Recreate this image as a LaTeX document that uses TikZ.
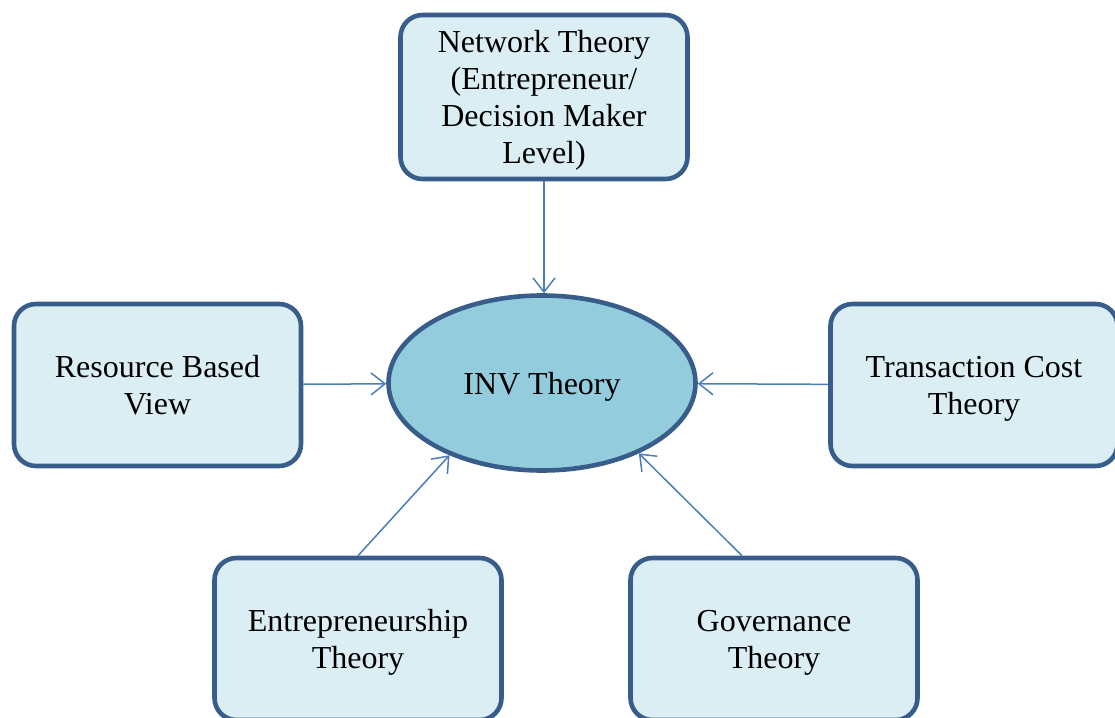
\documentclass[tikz,border=0pt]{standalone}
\usepackage{fontspec}
\setmainfont{Liberation Serif}
\usetikzlibrary{shapes.geometric,arrows.meta}

\definecolor{boxline}{RGB}{56,93,138}
\definecolor{boxfill}{RGB}{219,238,244}
\definecolor{corefill}{RGB}{147,205,221}
\definecolor{linkblue}{RGB}{74,126,187}

\begin{document}
\begin{tikzpicture}[x=0.5pt,y=-0.5pt,
  theory/.style={draw=boxline,fill=boxfill,line width=2.3pt,rounded corners=11pt,
    minimum width=143.5pt,minimum height=81pt,align=center,text depth=0pt,
    font=\fontsize{16}{18.5}\selectfont},
  core/.style={ellipse,draw=boxline,fill=corefill,line width=2.3pt,
    minimum width=153.5pt,minimum height=87.5pt,inner sep=0pt,text depth=0pt,
    font=\fontsize{16}{18.5}\selectfont},
  link/.style={draw=linkblue,line width=0.75pt,-{Straight Barb[length=7pt,width=11pt]}}]
  \clip (0,0) rectangle (1115,718);

  % centre and the five theories round it
  \node[core] (inv) at (542,383) {INV Theory};
  \node[theory,minimum height=82pt] (net) at (544,97) {Network Theory\\(Entrepreneur/\\Decision Maker\\Level)};
  \node[theory] (rbv) at (157.5,385) {Resource Based\\View};
  \node[theory] (tct) at (974,385) {Transaction Cost\\Theory};
  \node[theory] (ent) at (358,639) {Entrepreneurship\\Theory};
  \node[theory] (gov) at (774,639) {Governance\\Theory};

  \draw[link] (net.south) -- (inv.north -| net.south);
  \draw[link] (rbv) -- (inv);
  \draw[link] (tct) -- (inv);
  \draw[link] (ent.north) -- (inv.218);
  \draw[link] ([xshift=-16pt]gov.north) -- (inv.324);
\end{tikzpicture}
\end{document}
